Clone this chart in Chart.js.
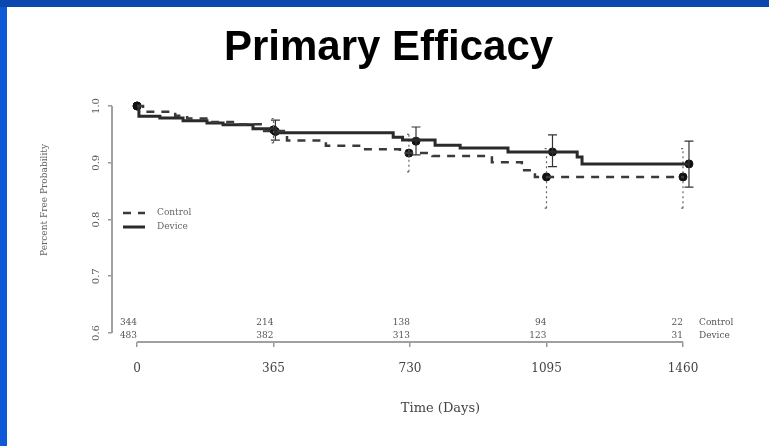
<!DOCTYPE html>
<html><head><meta charset="utf-8">
<script src="https://cdn.jsdelivr.net/npm/chart.js@4/dist/chart.umd.min.js"></script>
<style>
html,body{margin:0;padding:0;background:#fff;}
#wrap{position:relative;width:769px;height:446px;overflow:hidden;background:#fff;}
#c{position:absolute;left:0;top:0;}
.bl{position:absolute;left:0;top:0;width:7px;height:446px;background:#0e5ad6;}
.bt{position:absolute;left:0;top:0;width:769px;height:7px;background:#0a47af;}
</style></head><body>
<div id="wrap"><canvas id="c" width="769" height="446"></canvas><div class="bl"></div><div class="bt"></div></div>
<script>
const chartTitle = 'Primary Efficacy';
const xTitle = 'Time (Days)';
const yTitle = 'Percent Free Probability';
const seriesNames = ['Control', 'Device'];
const xTicks = [0, 365, 730, 1095, 1460];
const yTicks = [0.6, 0.7, 0.8, 0.9, 1.0];

// Kaplan-Meier step curves (day of step, survival after step)
const controlDays = [0, 16, 102, 134, 195, 275, 340, 401, 505, 602, 703, 790, 949, 1029, 1064, 1460];
const controlSurv = [1.0, 0.990, 0.983, 0.978, 0.972, 0.968, 0.956, 0.939, 0.930, 0.924, 0.917, 0.912, 0.901, 0.887, 0.875, 0.875];
const deviceDays = [0, 5, 61, 123, 187, 230, 310, 370, 685, 710, 797, 864, 992, 1177, 1190, 1476];
const deviceSurv = [1.0, 0.982, 0.979, 0.974, 0.970, 0.967, 0.960, 0.953, 0.945, 0.940, 0.931, 0.926, 0.919, 0.910, 0.898, 0.898];

// Marked estimates with confidence limits
const controlMarkDays = [0, 365, 727, 1095, 1460];
const controlMarkSurv = [1.0, 0.958, 0.917, 0.875, 0.875];
const controlLower = [null, 0.935, 0.884, 0.820, 0.820];
const controlUpper = [null, 0.978, 0.950, 0.925, 0.925];
const deviceMarkDays = [0, 370, 746, 1111, 1476];
const deviceMarkSurv = [1.0, 0.955, 0.938, 0.919, 0.898];
const deviceLower = [null, 0.940, 0.914, 0.893, 0.857];
const deviceUpper = [null, 0.975, 0.963, 0.949, 0.938];

// Numbers at risk
const riskDays = [0, 365, 730, 1095, 1460];
const riskControl = [344, 214, 138, 94, 22];
const riskDevice = [483, 382, 313, 123, 31];

const toXY = (xs, ys) => xs.map((v, i) => ({x: v, y: ys[i]}));
function errorBars(days, lo, hi, cap) {
  const pts = [];
  days.forEach((d, i) => {
    if (lo[i] == null) return;
    pts.push({x: d, y: lo[i]}, {x: d, y: hi[i]}, {x: d, y: null});
    if (cap > 0) {
      pts.push({x: d - cap, y: hi[i]}, {x: d + cap, y: hi[i]}, {x: d, y: null});
      pts.push({x: d - cap, y: lo[i]}, {x: d + cap, y: lo[i]}, {x: d, y: null});
    }
  });
  return pts;
}

const SERIF = "'DejaVu Serif', 'Liberation Serif', serif";

const decor = {
  id: 'decor',
  beforeDatasetsDraw(chart) {
    const {ctx, chartArea, scales: {x, y}} = chart;
    ctx.save();
    ctx.strokeStyle = '#a0a0a0';
    ctx.lineWidth = 2;
    ctx.beginPath();
    ctx.moveTo(chartArea.left, y.getPixelForValue(yTicks[0]));
    ctx.lineTo(chartArea.left, y.getPixelForValue(yTicks[yTicks.length - 1]));
    ctx.moveTo(x.getPixelForValue(xTicks[0]), chartArea.bottom);
    ctx.lineTo(x.getPixelForValue(xTicks[xTicks.length - 1]), chartArea.bottom);
    ctx.stroke();
    ctx.restore();
  },
  afterDraw(chart) {
    const {ctx, chartArea, scales: {x}} = chart;
    ctx.save();
    // y axis title
    ctx.save();
    ctx.translate(chartArea.left - 67, (chartArea.top + chartArea.bottom) / 2 - 21);
    ctx.rotate(-Math.PI / 2);
    ctx.font = '9px ' + SERIF;
    ctx.fillStyle = '#666';
    ctx.textAlign = 'center';
    ctx.textBaseline = 'middle';
    ctx.fillText(yTitle, 0, 0);
    ctx.restore();
    // numbers at risk
    ctx.font = '9px ' + SERIF;
    ctx.fillStyle = '#555';
    ctx.textBaseline = 'middle';
    const rowC = chartArea.bottom - 19, rowD = chartArea.bottom - 6;
    ctx.textAlign = 'right';
    riskDays.forEach((d, i) => {
      const px = x.getPixelForValue(d);
      ctx.fillText(String(riskControl[i]), px, rowC);
      ctx.fillText(String(riskDevice[i]), px, rowD);
    });
    ctx.textAlign = 'left';
    const lx = x.getPixelForValue(riskDays[riskDays.length - 1]) + 16;
    ctx.fillText(seriesNames[0], lx, rowC);
    ctx.fillText(seriesNames[1], lx, rowD);
    // legend
    const legX = chartArea.left + 11, legY = chartArea.top + 113;
    [0, 1].forEach(i => {
      const ds = chart.data.datasets[i];
      const yy = legY + i * 14;
      ctx.save();
      ctx.strokeStyle = ds.borderColor;
      ctx.lineWidth = ds.borderWidth;
      ctx.setLineDash(ds.borderDash || []);
      ctx.beginPath();
      ctx.moveTo(legX, yy); ctx.lineTo(legX + 22, yy);
      ctx.stroke();
      ctx.restore();
      ctx.fillStyle = '#666';
      ctx.fillText(ds.label, legX + 34, yy);
    });
    ctx.restore();
  }
};

new Chart(document.getElementById('c'), {
  type: 'line',
  data: {
    datasets: [
      {label: seriesNames[0], data: toXY(controlDays, controlSurv), stepped: true,
       borderColor: '#3a3a3a', borderWidth: 2.5, borderDash: [8, 7], pointRadius: 0, fill: false},
      {label: seriesNames[1], data: toXY(deviceDays, deviceSurv), stepped: true,
       borderColor: '#2a2a2a', borderWidth: 3, pointRadius: 0, fill: false},
      {label: 'Control CI', data: errorBars(controlMarkDays, controlLower, controlUpper, 5),
       borderColor: '#666', borderWidth: 1.2, borderDash: [2, 3], pointRadius: 0, spanGaps: false},
      {label: 'Device CI', data: errorBars(deviceMarkDays, deviceLower, deviceUpper, 12),
       borderColor: '#333', borderWidth: 1.2, pointRadius: 0, spanGaps: false},
      {label: 'Control marks', data: toXY(controlMarkDays, controlMarkSurv), showLine: false,
       pointRadius: 4, pointBackgroundColor: '#111', pointBorderColor: '#111'},
      {label: 'Device marks', data: toXY(deviceMarkDays, deviceMarkSurv), showLine: false,
       pointRadius: 4, pointBackgroundColor: '#111', pointBorderColor: '#111'}
    ]
  },
  options: {
    responsive: false,
    animation: false,
    events: [],
    layout: {padding: {left: 8, right: 0, top: 0, bottom: 0}, autoPadding: false},
    plugins: {
      legend: {display: false},
      tooltip: {enabled: false},
      title: {display: true, text: chartTitle, color: '#000',
        font: {family: "'Liberation Sans', Arial, sans-serif", size: 42, weight: 'bold'},
        padding: {top: 22.8, bottom: 26.8}}
    },
    scales: {
      x: {
        type: 'linear', min: -67, max: 1690,
        afterBuildTicks: s => { s.ticks = xTicks.map(v => ({value: v})); },
        afterFit: s => { s.height = 104; },
        ticks: {font: {family: SERIF, size: 12}, color: '#444', padding: 15, maxRotation: 0, autoSkip: false,
          callback: v => String(v)},
        grid: {drawOnChartArea: false, tickLength: 5, color: '#999', lineWidth: 1.5},
        border: {display: false},
        title: {display: true, text: xTitle, color: '#444', font: {family: SERIF, size: 13}, padding: {top: 0, bottom: 29.2}}
      },
      y: {
        type: 'linear', min: 0.58414, max: 1.01057,
        afterBuildTicks: s => { s.ticks = yTicks.map(v => ({value: v})); },
        afterFit: s => { s.width = 104; },
        ticks: {font: {family: SERIF, size: 10}, color: '#555', padding: 4, minRotation: 90, maxRotation: 90,
          crossAlign: 'center', callback: v => Number(v).toFixed(1)},
        grid: {drawOnChartArea: false, tickLength: 4, color: '#999', lineWidth: 1.5},
        border: {display: false},
        title: {display: false}
      }
    }
  },
  plugins: [decor]
});
</script>
</body></html>
